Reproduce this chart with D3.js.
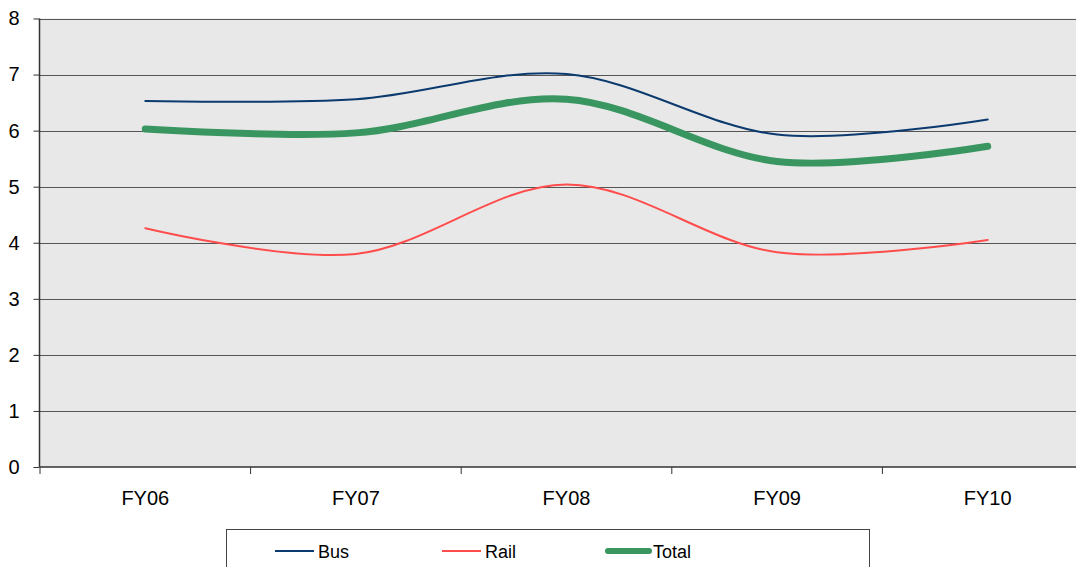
<!DOCTYPE html>
<html><head><meta charset="utf-8">
<script src="https://cdn.jsdelivr.net/npm/d3@7"></script>
<style>
body{margin:0;background:#fff;}
svg{display:block;}
text{font-family:"Liberation Sans Narrow","Liberation Sans",Arial,sans-serif;fill:#000;}
</style></head>
<body><svg id="c" width="1076" height="567"></svg>
<script>
const categories = ["FY06","FY07","FY08","FY09","FY10"];
const busValues = [6.53, 6.56, 7.01, 5.93, 6.2];
const railValues = [4.26, 3.8, 5.04, 3.83, 4.05];
const totalValues = [6.03, 5.96, 6.56, 5.45, 5.72];
const yTicks = [0,1,2,3,4,5,6,7,8];
const seriesNames = ["Bus","Rail","Total"];

(function(){
const svg = d3.select("#c");
const pl = 40, pr = 1093, pt = 18.5, pb = 467;
const x = d3.scaleBand().domain(categories).range([pl, pr]);
const y = d3.scaleLinear().domain([0, 8]).range([pb, pt]);

svg.append("rect").attr("x", pl).attr("y", pt).attr("width", pr-pl).attr("height", pb-pt).attr("fill", "#e8e8e8");

svg.append("g").selectAll("line").data(yTicks.filter(d=>d>0)).join("line")
  .attr("x1", pl).attr("x2", pr).attr("y1", d=>Math.round(y(d))+0.5).attr("y2", d=>Math.round(y(d))+0.5)
  .attr("stroke", "#555").attr("stroke-width", 1.2);

const ya = svg.append("g").attr("transform", `translate(${pl-0.5},0)`)
  .call(d3.axisLeft(y).tickValues(yTicks).tickSize(6).tickPadding(14).tickFormat(d3.format("d")));
ya.select(".domain").attr("stroke", "#333").attr("stroke-width", 1.5).attr("d", `M0,${pt}V${pb}`);
ya.selectAll(".tick line").attr("stroke", "#333");
ya.selectAll(".tick text").attr("font-size", 20).attr("font-family", "Liberation Sans, Arial, sans-serif").attr("fill", "#000");

const xa = svg.append("g").attr("transform", `translate(0,${pb})`)
  .call(d3.axisBottom(x).tickSize(0).tickPadding(24));
xa.select(".domain").attr("stroke", "#333").attr("stroke-width", 1.5).attr("d", `M${pl},0H${pr}`);
xa.selectAll(".tick text").attr("font-size", 20).attr("font-family", "Liberation Sans, Arial, sans-serif").attr("fill", "#000");
xa.append("g").selectAll("line").data(categories).join("line")
  .attr("x1", d=>x(d)).attr("x2", d=>x(d)).attr("y1", 0).attr("y2", 7).attr("stroke", "#333");

const line = d3.line().x((d,i)=>x(categories[i]) + x.bandwidth()/2).y(d=>y(d)).curve(d3.curveCatmullRom.alpha(0));
const series = [
  {name:"Bus", values: busValues, color:"#0b3a6e", w:2},
  {name:"Rail", values: railValues, color:"#ff4d4d", w:2},
  {name:"Total", values: totalValues, color:"#3a9660", w:7}
];
const plotOrder = [series[1], series[0], series[2]];
svg.append("g").selectAll("path").data(plotOrder).join("path")
  .attr("d", d=>line(d.values)).attr("fill","none").attr("stroke", d=>d.color)
  .attr("stroke-width", d=>d.w).attr("stroke-linecap","round");

const lg = svg.append("g");
lg.append("rect").attr("x", 226.5).attr("y", 529.5).attr("width", 643).attr("height", 50)
  .attr("fill", "#fff").attr("stroke", "#444").attr("stroke-width", 1);
const lx = [275, 442, 608];
series.forEach((s,i)=>{
  lg.append("line").attr("x1", lx[i]).attr("x2", lx[i] + (s.name==="Total"?41:39)).attr("y1", 551).attr("y2", 551)
    .attr("stroke", s.color).attr("stroke-width", s.w===7?6:2).attr("stroke-linecap", s.w===7?"round":"butt");
  lg.append("text").attr("x", lx[i] + (s.name==="Total"?45:43)).attr("y", 557.5).attr("font-size", 18).text(seriesNames[i]);
});
})();
</script></body></html>
